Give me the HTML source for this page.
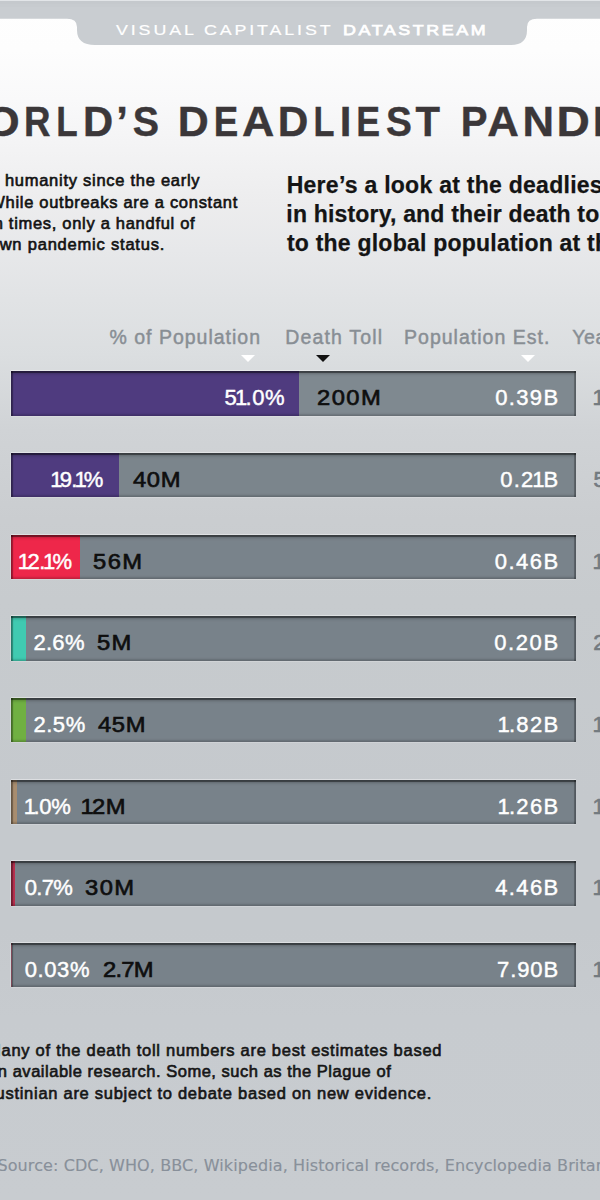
<!DOCTYPE html>
<html><head><meta charset="utf-8">
<title>World's Deadliest Pandemics</title>
<style>
*{margin:0;padding:0;box-sizing:border-box}
html,body{width:600px;height:1200px;overflow:hidden}
body{position:relative;font-family:"Liberation Sans",Arial,sans-serif;
background:linear-gradient(to bottom,#fefefe 0px,#fdfdfd 50px,#f9f9fa 100px,#f3f3f4 150px,#ededee 200px,#e7e8ea 250px,#e1e3e5 300px,#dbdee0 355px,#d0d3d6 430px,#cacdd0 520px,#c7cbce 600px,#c5c9cd 800px,#c5c9cd 930px,#c7cbcf 1020px,#c8ccd0 1200px);}
.t{position:absolute;white-space:nowrap;line-height:1;font-kerning:normal}
#band{position:absolute;left:0;top:0}
.title{position:absolute;left:0;width:600px;height:50px;font-family:"Liberation Sans",Arial,sans-serif;font-weight:bold;line-height:1}
.title .g{position:absolute;top:0;white-space:pre}
.tri{position:absolute;width:0;height:0;border-left:7.5px solid transparent;border-right:7.5px solid transparent;border-top:7.4px solid #fff;top:355px}
.bar{position:absolute;left:11px;width:565px;height:44.5px;background:#78828a;overflow:hidden;box-shadow:0 -1px 0 rgba(255,255,255,.4),0 1px 0 rgba(255,255,255,.18),-1px 0 0 rgba(255,255,255,.22)}
.bar .fill{position:absolute;left:0;top:0;bottom:0}
.bar .sh{position:absolute;left:0;top:0;right:0;bottom:0;box-shadow:inset 0 2px 0 rgba(0,0,0,.38),inset 0 3px 3px rgba(0,0,0,.22),inset 2px 0 1px rgba(0,0,0,.3),inset -2px 0 0 rgba(0,0,0,.22),inset 0 -2px 2px rgba(0,0,0,.16)}
</style></head><body>
<svg id="band" width="600" height="50" viewBox="0 0 600 50">
<path d="M0 0 H600 V18.8 H537 Q527 18.8 527 27 V30 Q527 45 511 45 H95 Q77 45 77 30 V27 Q77 18.8 67 18.8 H0 Z" fill="#c9cdd1"/>
<rect x="0" y="1" width="600" height="3" fill="#c5c9cd"/>
<rect x="0" y="4" width="600" height="3" fill="#c7cbcf"/>
<rect x="0" y="0" width="600" height="1" fill="#e2e5e8"/>
</svg>
<div class="title" style="top:101.44px;font-size:42.0px;color:#3b3739;-webkit-text-stroke:0.4px #3b3739"><span class="g" style="left:-60.82px;transform-origin:19.82px 50%;transform:scaleX(0.961)">W</span><span class="g" style="left:-13.81px;transform-origin:16.31px 50%;transform:scaleX(1.062)">O</span><span class="g" style="left:21.51px;transform-origin:16.14px 50%;transform:scaleX(0.874)">R</span><span class="g" style="left:54.11px;transform-origin:13.59px 50%;transform:scaleX(0.835)">L</span><span class="g" style="left:82.81px;transform-origin:15.69px 50%;transform:scaleX(0.994)">D</span><span class="g" style="left:116.17px;transform-origin:5.83px 50%;transform:scaleX(1.000)">’</span><span class="g" style="left:131.71px;transform-origin:13.79px 50%;transform:scaleX(0.938)">S</span><span class="g" style="left:178.46px;transform-origin:15.69px 50%;transform:scaleX(1.021)">D</span><span class="g" style="left:212.41px;transform-origin:14.59px 50%;transform:scaleX(0.874)">E</span><span class="g" style="left:242.57px;transform-origin:15.13px 50%;transform:scaleX(1.065)">A</span><span class="g" style="left:278.01px;transform-origin:15.69px 50%;transform:scaleX(1.009)">D</span><span class="g" style="left:310.91px;transform-origin:13.59px 50%;transform:scaleX(0.817)">L</span><span class="g" style="left:339.87px;transform-origin:5.83px 50%;transform:scaleX(1.000)">I</span><span class="g" style="left:354.11px;transform-origin:14.59px 50%;transform:scaleX(0.849)">E</span><span class="g" style="left:384.56px;transform-origin:13.79px 50%;transform:scaleX(0.926)">S</span><span class="g" style="left:414.96px;transform-origin:12.84px 50%;transform:scaleX(0.954)">T</span><span class="g" style="left:459.96px;transform-origin:14.69px 50%;transform:scaleX(0.955)">P</span><span class="g" style="left:487.87px;transform-origin:15.13px 50%;transform:scaleX(1.043)">A</span><span class="g" style="left:523.29px;transform-origin:15.16px 50%;transform:scaleX(1.041)">N</span><span class="g" style="left:558.46px;transform-origin:15.69px 50%;transform:scaleX(1.099)">D</span><span class="g" style="left:591.41px;transform-origin:14.59px 50%;transform:scaleX(0.849)">E</span><span class="g" style="left:623.01px;transform-origin:17.49px 50%;transform:scaleX(0.987)">M</span><span class="g" style="left:662.17px;transform-origin:5.83px 50%;transform:scaleX(1.000)">I</span><span class="g" style="left:677.55px;transform-origin:15.45px 50%;transform:scaleX(0.874)">C</span><span class="g" style="left:710.71px;transform-origin:13.79px 50%;transform:scaleX(0.914)">S</span></div>
<div class="t" style="font-family:'Liberation Sans',Arial,sans-serif;font-weight:normal;font-size:15.5px;left:115.90px;top:22.48px;letter-spacing:2.508px;color:#ffffff;transform:scaleX(1.1500);transform-origin:0 0;-webkit-text-stroke:0.2px #fff;">VISUAL CAPITALIST</div>
<div class="t" style="font-family:'Liberation Sans',Arial,sans-serif;font-weight:normal;font-size:15.5px;left:342.84px;top:22.48px;letter-spacing:2.268px;color:#ffffff;transform:scaleX(1.1500);transform-origin:0 0;-webkit-text-stroke:0.75px #fff;">DATASTREAM</div>
<div class="t" style="font-family:'Liberation Sans',Arial,sans-serif;font-weight:normal;font-size:16.5px;left:-201.72px;top:172.23px;letter-spacing:0.729px;color:#121212;-webkit-text-stroke:0.62px #121212;">Pandemics have plagued humanity since the early</div>
<div class="t" style="font-family:'Liberation Sans',Arial,sans-serif;font-weight:normal;font-size:16.5px;left:-168.48px;top:193.63px;letter-spacing:0.708px;color:#121212;-webkit-text-stroke:0.62px #121212;">days of civilization. While outbreaks are a constant</div>
<div class="t" style="font-family:'Liberation Sans',Arial,sans-serif;font-weight:normal;font-size:16.5px;left:-127.78px;top:214.93px;letter-spacing:0.700px;color:#121212;-webkit-text-stroke:0.62px #121212;">threat in modern times, only a handful of</div>
<div class="t" style="font-family:'Liberation Sans',Arial,sans-serif;font-weight:normal;font-size:16.5px;left:-267.11px;top:236.43px;letter-spacing:0.794px;color:#121212;-webkit-text-stroke:0.62px #121212;">outbreaks have reached well-known pandemic status.</div>
<div class="t" style="font-family:'Liberation Sans',Arial,sans-serif;font-weight:bold;font-size:23px;left:286.70px;top:173.53px;letter-spacing:0.267px;color:#141414;-webkit-text-stroke:0.25px #141414;">Here’s a look at the deadliest pandemics</div>
<div class="t" style="font-family:'Liberation Sans',Arial,sans-serif;font-weight:bold;font-size:23px;left:286.35px;top:202.83px;letter-spacing:0.185px;color:#141414;-webkit-text-stroke:0.25px #141414;">in history, and their death toll compared</div>
<div class="t" style="font-family:'Liberation Sans',Arial,sans-serif;font-weight:bold;font-size:23px;left:286.90px;top:232.13px;letter-spacing:0.227px;color:#141414;-webkit-text-stroke:0.25px #141414;">to the global population at the time.</div>
<div class="t" style="font-family:'Liberation Sans',Arial,sans-serif;font-weight:normal;font-size:19.5px;left:109.48px;top:327.79px;letter-spacing:0.995px;color:#888e94;-webkit-text-stroke:0.45px #888e94;">% of Population</div>
<div class="t" style="font-family:'Liberation Sans',Arial,sans-serif;font-weight:normal;font-size:19.5px;left:285.22px;top:327.79px;letter-spacing:1.172px;color:#888e94;-webkit-text-stroke:0.45px #888e94;">Death Toll</div>
<div class="t" style="font-family:'Liberation Sans',Arial,sans-serif;font-weight:normal;font-size:19.5px;left:404.02px;top:327.79px;letter-spacing:1.015px;color:#888e94;-webkit-text-stroke:0.45px #888e94;">Population Est.</div>
<div class="t" style="font-family:'Liberation Sans',Arial,sans-serif;font-weight:normal;font-size:19.5px;left:572.27px;top:327.79px;letter-spacing:0.600px;color:#888e94;-webkit-text-stroke:0.45px #888e94;">Year</div>
<div class="tri" style="left:240.9px;border-top-color:#ffffff"></div>
<div class="tri" style="left:316.1px;border-top-color:#111111"></div>
<div class="tri" style="left:521.0px;border-top-color:#ffffff"></div>
<div class="bar" style="top:371.30px;background:#7f8990"><div class="fill" style="width:287.80px;background:#4f3b7f"></div><div class="sh"></div></div>
<div class="t" style="font-family:'Liberation Sans',Arial,sans-serif;font-weight:normal;font-size:22px;left:224.52px;top:387.17px;letter-spacing:0.551px;color:#ffffff;-webkit-text-stroke:0.45px #fff;">5<span style="margin-left:-2.3px;letter-spacing:-1.749px">1</span>.0%</div>
<div class="t" style="font-family:'Liberation Sans',Arial,sans-serif;font-weight:normal;font-size:22px;left:316.51px;top:387.17px;letter-spacing:1.332px;color:#0e0e0e;transform:scaleX(1.0800);transform-origin:0 0;-webkit-text-stroke:0.65px #0e0e0e;">200M</div>
<div class="t" style="font-family:'Liberation Sans',Arial,sans-serif;font-weight:normal;font-size:22px;left:495.14px;top:387.17px;letter-spacing:1.386px;color:#ffffff;-webkit-text-stroke:0.45px #fff;">0.39B</div>
<div class="t" style="font-family:'Liberation Sans',Arial,sans-serif;font-weight:normal;font-size:22px;left:592.62px;top:387.17px;letter-spacing:0.500px;color:#737a80;-webkit-text-stroke:0.6px #737a80;">1918</div>
<div class="bar" style="top:452.97px;background:#7b858c"><div class="fill" style="width:107.75px;background:#4f3b7f"></div><div class="sh"></div></div>
<div class="t" style="font-family:'Liberation Sans',Arial,sans-serif;font-weight:normal;font-size:22px;left:52.62px;top:468.84px;letter-spacing:-0.625px;color:#ffffff;-webkit-text-stroke:0.45px #fff;"><span style="margin-left:-2.3px;letter-spacing:-2.925px">1</span>9.<span style="margin-left:-2.3px;letter-spacing:-2.925px">1</span>%</div>
<div class="t" style="font-family:'Liberation Sans',Arial,sans-serif;font-weight:normal;font-size:22px;left:133.20px;top:468.84px;letter-spacing:0.575px;color:#0e0e0e;transform:scaleX(1.0800);transform-origin:0 0;-webkit-text-stroke:0.65px #0e0e0e;">40M</div>
<div class="t" style="font-family:'Liberation Sans',Arial,sans-serif;font-weight:normal;font-size:22px;left:500.14px;top:468.84px;letter-spacing:1.286px;color:#ffffff;-webkit-text-stroke:0.45px #fff;">0.2<span style="margin-left:-2.3px;letter-spacing:-1.014px">1</span>B</div>
<div class="t" style="font-family:'Liberation Sans',Arial,sans-serif;font-weight:normal;font-size:22px;left:593.42px;top:468.84px;letter-spacing:0.500px;color:#737a80;-webkit-text-stroke:0.6px #737a80;">541</div>
<div class="bar" style="top:534.64px;background:#79838b"><div class="fill" style="width:69.00px;background:#ee274a"></div><div class="sh"></div></div>
<div class="t" style="font-family:'Liberation Sans',Arial,sans-serif;font-weight:normal;font-size:22px;left:20.12px;top:550.51px;letter-spacing:-0.313px;color:#ffffff;-webkit-text-stroke:0.45px #fff;"><span style="margin-left:-2.3px;letter-spacing:-2.613px">1</span>2.<span style="margin-left:-2.3px;letter-spacing:-2.613px">1</span>%</div>
<div class="t" style="font-family:'Liberation Sans',Arial,sans-serif;font-weight:normal;font-size:22px;left:92.80px;top:550.51px;letter-spacing:1.342px;color:#0e0e0e;transform:scaleX(1.0800);transform-origin:0 0;-webkit-text-stroke:0.65px #0e0e0e;">56M</div>
<div class="t" style="font-family:'Liberation Sans',Arial,sans-serif;font-weight:normal;font-size:22px;left:494.74px;top:550.51px;letter-spacing:1.486px;color:#ffffff;-webkit-text-stroke:0.45px #fff;">0.46B</div>
<div class="t" style="font-family:'Liberation Sans',Arial,sans-serif;font-weight:normal;font-size:22px;left:592.62px;top:550.51px;letter-spacing:0.500px;color:#737a80;-webkit-text-stroke:0.6px #737a80;">1347</div>
<div class="bar" style="top:616.31px;background:#78828a"><div class="fill" style="width:15.25px;background:#40cab1"></div><div class="sh"></div></div>
<div class="t" style="font-family:'Liberation Sans',Arial,sans-serif;font-weight:normal;font-size:22px;left:33.39px;top:632.18px;letter-spacing:0.326px;color:#ffffff;-webkit-text-stroke:0.45px #fff;">2.6%</div>
<div class="t" style="font-family:'Liberation Sans',Arial,sans-serif;font-weight:normal;font-size:22px;left:96.55px;top:632.18px;letter-spacing:1.095px;color:#0e0e0e;transform:scaleX(1.0800);transform-origin:0 0;-webkit-text-stroke:0.65px #0e0e0e;">5M</div>
<div class="t" style="font-family:'Liberation Sans',Arial,sans-serif;font-weight:normal;font-size:22px;left:494.14px;top:632.18px;letter-spacing:1.636px;color:#ffffff;-webkit-text-stroke:0.45px #fff;">0.20B</div>
<div class="t" style="font-family:'Liberation Sans',Arial,sans-serif;font-weight:normal;font-size:22px;left:593.19px;top:632.18px;letter-spacing:0.500px;color:#737a80;-webkit-text-stroke:0.6px #737a80;">2nd c.</div>
<div class="bar" style="top:697.98px;background:#78828a"><div class="fill" style="width:14.50px;background:#70b042"></div><div class="sh"></div></div>
<div class="t" style="font-family:'Liberation Sans',Arial,sans-serif;font-weight:normal;font-size:22px;left:33.39px;top:713.85px;letter-spacing:0.576px;color:#ffffff;-webkit-text-stroke:0.45px #fff;">2.5%</div>
<div class="t" style="font-family:'Liberation Sans',Arial,sans-serif;font-weight:normal;font-size:22px;left:98.20px;top:713.85px;letter-spacing:0.575px;color:#0e0e0e;transform:scaleX(1.0800);transform-origin:0 0;-webkit-text-stroke:0.65px #0e0e0e;">45M</div>
<div class="t" style="font-family:'Liberation Sans',Arial,sans-serif;font-weight:normal;font-size:22px;left:499.92px;top:713.85px;letter-spacing:1.341px;color:#ffffff;-webkit-text-stroke:0.45px #fff;"><span style="margin-left:-2.3px;letter-spacing:-0.959px">1</span>.82B</div>
<div class="t" style="font-family:'Liberation Sans',Arial,sans-serif;font-weight:normal;font-size:22px;left:592.62px;top:713.85px;letter-spacing:0.500px;color:#737a80;-webkit-text-stroke:0.6px #737a80;">1889</div>
<div class="bar" style="top:779.65px;background:#78828a"><div class="fill" style="width:5.50px;background:#a88d6f"></div><div class="sh"></div></div>
<div class="t" style="font-family:'Liberation Sans',Arial,sans-serif;font-weight:normal;font-size:22px;left:26.12px;top:795.52px;letter-spacing:-0.301px;color:#ffffff;-webkit-text-stroke:0.45px #fff;"><span style="margin-left:-2.3px;letter-spacing:-2.601px">1</span>.0%</div>
<div class="t" style="font-family:'Liberation Sans',Arial,sans-serif;font-weight:normal;font-size:22px;left:83.17px;top:795.52px;letter-spacing:0.574px;color:#0e0e0e;transform:scaleX(1.0800);transform-origin:0 0;-webkit-text-stroke:0.65px #0e0e0e;"><span style="margin-left:-2.3px;letter-spacing:-1.726px">1</span>2M</div>
<div class="t" style="font-family:'Liberation Sans',Arial,sans-serif;font-weight:normal;font-size:22px;left:499.92px;top:795.52px;letter-spacing:1.341px;color:#ffffff;-webkit-text-stroke:0.45px #fff;"><span style="margin-left:-2.3px;letter-spacing:-0.959px">1</span>.26B</div>
<div class="t" style="font-family:'Liberation Sans',Arial,sans-serif;font-weight:normal;font-size:22px;left:592.62px;top:795.52px;letter-spacing:0.500px;color:#737a80;-webkit-text-stroke:0.6px #737a80;">1855</div>
<div class="bar" style="top:861.32px;background:#78828a"><div class="fill" style="width:4.00px;background:#b8304f"></div><div class="sh"></div></div>
<div class="t" style="font-family:'Liberation Sans',Arial,sans-serif;font-weight:normal;font-size:22px;left:24.64px;top:877.19px;letter-spacing:-0.673px;color:#ffffff;-webkit-text-stroke:0.45px #fff;">0.7%</div>
<div class="t" style="font-family:'Liberation Sans',Arial,sans-serif;font-weight:normal;font-size:22px;left:85.35px;top:877.19px;letter-spacing:1.320px;color:#0e0e0e;transform:scaleX(1.0800);transform-origin:0 0;-webkit-text-stroke:0.65px #0e0e0e;">30M</div>
<div class="t" style="font-family:'Liberation Sans',Arial,sans-serif;font-weight:normal;font-size:22px;left:495.20px;top:877.19px;letter-spacing:1.373px;color:#ffffff;-webkit-text-stroke:0.45px #fff;">4.46B</div>
<div class="t" style="font-family:'Liberation Sans',Arial,sans-serif;font-weight:normal;font-size:22px;left:592.62px;top:877.19px;letter-spacing:0.500px;color:#737a80;-webkit-text-stroke:0.6px #737a80;">1981</div>
<div class="bar" style="top:942.99px;background:#78828a"><div class="fill" style="width:1.20px;background:#d07a92"></div><div class="sh"></div></div>
<div class="t" style="font-family:'Liberation Sans',Arial,sans-serif;font-weight:normal;font-size:22px;left:24.64px;top:958.86px;letter-spacing:0.633px;color:#ffffff;-webkit-text-stroke:0.45px #fff;">0.03%</div>
<div class="t" style="font-family:'Liberation Sans',Arial,sans-serif;font-weight:normal;font-size:22px;left:102.56px;top:958.86px;letter-spacing:-0.678px;color:#0e0e0e;transform:scaleX(1.0800);transform-origin:0 0;-webkit-text-stroke:0.65px #0e0e0e;">2.7M</div>
<div class="t" style="font-family:'Liberation Sans',Arial,sans-serif;font-weight:normal;font-size:22px;left:496.97px;top:958.86px;letter-spacing:0.929px;color:#ffffff;-webkit-text-stroke:0.45px #fff;">7.90B</div>
<div class="t" style="font-family:'Liberation Sans',Arial,sans-serif;font-weight:normal;font-size:22px;left:592.62px;top:958.86px;letter-spacing:0.500px;color:#737a80;-webkit-text-stroke:0.6px #737a80;">19-20</div>
<div class="t" style="font-family:'Liberation Sans',Arial,sans-serif;font-weight:normal;font-size:16.5px;left:-61.26px;top:1042.03px;letter-spacing:0.720px;color:#161616;-webkit-text-stroke:0.62px #161616;">Note: Many of the death toll numbers are best estimates based</div>
<div class="t" style="font-family:'Liberation Sans',Arial,sans-serif;font-weight:normal;font-size:16.5px;left:-11.85px;top:1063.43px;letter-spacing:0.522px;color:#161616;-webkit-text-stroke:0.62px #161616;">on available research. Some, such as the Plague of</div>
<div class="t" style="font-family:'Liberation Sans',Arial,sans-serif;font-weight:normal;font-size:16.5px;left:-13.46px;top:1085.03px;letter-spacing:0.723px;color:#161616;-webkit-text-stroke:0.62px #161616;">Justinian are subject to debate based on new evidence.</div>
<div class="t" style="font-family:'DejaVu Sans',sans-serif;font-weight:normal;font-size:16px;left:-2.60px;top:1158.16px;letter-spacing:0.103px;color:#88909a;-webkit-text-stroke:0.15px #88909a;">Source: CDC, WHO, BBC, Wikipedia, Historical records, Encyclopedia Britannica</div>
</body></html>
